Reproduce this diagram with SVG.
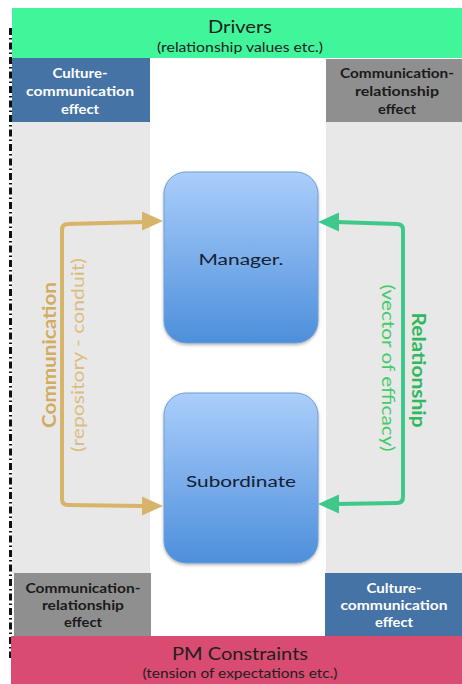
<svg xmlns="http://www.w3.org/2000/svg" width="462" height="684" viewBox="0 0 462 684">
  <defs>
    <linearGradient id="boxFill" x1="0" y1="0" x2="0" y2="1">
      <stop offset="0" stop-color="#abcefb"/>
      <stop offset="1" stop-color="#4d8fdb"/>
    </linearGradient>
    <filter id="soft" x="-10%" y="-10%" width="120%" height="120%">
      <feDropShadow dx="0" dy="1.5" stdDeviation="1.5" flood-color="#000" flood-opacity="0.3"/>
    </filter>
    <style>
      text { font-family: Lato, "Open Sans", "Liberation Sans", sans-serif; text-anchor: middle; }
      .band-title { font-size: 17px; fill: #1e1e1e; }
      .band-sub { font-size: 12.5px; fill: #1e1e1e; }
      .effect { font-size: 14px; font-weight: bold; }
      .on-blue { fill: #ffffff; }
      .on-grey { fill: #1a1a1a; }
      .node-label { font-size: 15.5px; fill: #152033; }
      .node-box { fill: url(#boxFill); stroke: #6f9dd3; stroke-width: 1; filter: url(#soft); }
      .comm-line { fill: none; stroke: #d8b46a; stroke-width: 4; stroke-linejoin: round; }
      .comm-head { fill: #d8b46a; }
      .rel-line { fill: none; stroke: #3ec98b; stroke-width: 4; stroke-linejoin: round; }
      .rel-head { fill: #3ec98b; }
    </style>
  </defs>

  <rect x="0" y="0" width="462" height="684" fill="#ffffff"/>

  <!-- side panels -->
  <rect x="12" y="122" width="138" height="451" fill="#e8e8e8"/>
  <rect x="326" y="122" width="136" height="451" fill="#e8e8e8"/>

  <!-- dash-dot boundary -->
  <line x1="10.5" y1="28" x2="10.5" y2="658" stroke="#111" stroke-width="3" stroke-dasharray="7 3 1.5 3"/>

  <!-- top band -->
  <g id="drivers">
    <rect x="12" y="8" width="450" height="50" fill="#41f59b"/>
    <text class="band-title" x="240" y="33" textLength="64" lengthAdjust="spacingAndGlyphs">Drivers</text>
    <text class="band-sub" x="240" y="52" textLength="166" lengthAdjust="spacingAndGlyphs">(relationship values etc.)</text>
  </g>

  <g id="effect-top-left">
    <rect x="12" y="58" width="138" height="64" fill="#4573a6"/>
    <text class="effect on-blue" x="80" y="78" textLength="55" lengthAdjust="spacingAndGlyphs">Culture-</text>
    <text class="effect on-blue" x="80" y="96" textLength="108" lengthAdjust="spacingAndGlyphs">communication</text>
    <text class="effect on-blue" x="80" y="114" textLength="38" lengthAdjust="spacingAndGlyphs">effect</text>
  </g>

  <g id="effect-top-right">
    <rect x="326" y="59" width="136" height="63" fill="#8f8f8f"/>
    <text class="effect on-grey" x="397" y="78" textLength="114" lengthAdjust="spacingAndGlyphs">Communication-</text>
    <text class="effect on-grey" x="397" y="96" textLength="84" lengthAdjust="spacingAndGlyphs">relationship</text>
    <text class="effect on-grey" x="397" y="114" textLength="38" lengthAdjust="spacingAndGlyphs">effect</text>
  </g>

  <g id="effect-bottom-left">
    <rect x="14" y="573" width="137" height="63" fill="#8f8f8f"/>
    <text class="effect on-grey" x="83" y="593" textLength="115" lengthAdjust="spacingAndGlyphs">Communication-</text>
    <text class="effect on-grey" x="83" y="610" textLength="82" lengthAdjust="spacingAndGlyphs">relationship</text>
    <text class="effect on-grey" x="83" y="627" textLength="38" lengthAdjust="spacingAndGlyphs">effect</text>
  </g>

  <g id="effect-bottom-right">
    <rect x="325" y="573" width="137" height="63" fill="#4573a6"/>
    <text class="effect on-blue" x="394" y="593" textLength="55" lengthAdjust="spacingAndGlyphs">Culture-</text>
    <text class="effect on-blue" x="394" y="610" textLength="107" lengthAdjust="spacingAndGlyphs">communication</text>
    <text class="effect on-blue" x="394" y="627" textLength="38" lengthAdjust="spacingAndGlyphs">effect</text>
  </g>

  <!-- bottom band -->
  <g id="pm-constraints">
    <rect x="11" y="636" width="451" height="48" fill="#d94b70"/>
    <text class="band-title" x="240" y="660" textLength="136" lengthAdjust="spacingAndGlyphs">PM Constraints</text>
    <text class="band-sub" x="240" y="678" textLength="195" lengthAdjust="spacingAndGlyphs">(tension of expectations etc.)</text>
  </g>

  <!-- nodes -->
  <g id="manager">
    <rect class="node-box" x="164" y="172" width="154" height="171" rx="22" ry="22"/>
    <text class="node-label" x="241" y="265" textLength="85" lengthAdjust="spacingAndGlyphs">Manager.</text>
  </g>

  <g id="subordinate">
    <rect class="node-box" x="164" y="393" width="154" height="170" rx="22" ry="22"/>
    <text class="node-label" x="241" y="487" textLength="110" lengthAdjust="spacingAndGlyphs">Subordinate</text>
  </g>

  <!-- connectors -->
  <g id="connectors">
    <g id="communication">
      <path class="comm-line" d="M144,222 L68,224 Q62,224 62,230 L62,499 Q62,505 68,505 L144,506"/>
      <polygon class="comm-head" points="163,221 142,211.5 142,230.5"/>
      <polygon class="comm-head" points="163,506 142,496.5 142,515.5"/>
      <text transform="translate(56,355) rotate(-90)" x="0" y="0" font-size="19" font-weight="bold" fill="#d2ac5f" textLength="146" lengthAdjust="spacingAndGlyphs">Communication</text>
      <text transform="translate(84,355) rotate(-90)" x="0" y="0" font-size="16.5" fill="#dcbd80" textLength="194" lengthAdjust="spacingAndGlyphs">(repository - conduit)</text>
    </g>
    <g id="relationship">
      <path class="rel-line" d="M336,222 L397,224 Q403,224 403,230 L403,497 Q403,503 397,503 L336,504"/>
      <polygon class="rel-head" points="318,222 339,212.5 339,231.5"/>
      <polygon class="rel-head" points="318,504 339,494.5 339,513.5"/>
      <text transform="translate(412,370) rotate(90)" x="0" y="0" font-size="19" font-weight="bold" fill="#2fb95d" textLength="115" lengthAdjust="spacingAndGlyphs">Relationship</text>
      <text transform="translate(382,368) rotate(90)" x="0" y="0" font-size="16.5" fill="#40cc66" textLength="167" lengthAdjust="spacingAndGlyphs">(vector of efficacy)</text>
    </g>
  </g>
</svg>
